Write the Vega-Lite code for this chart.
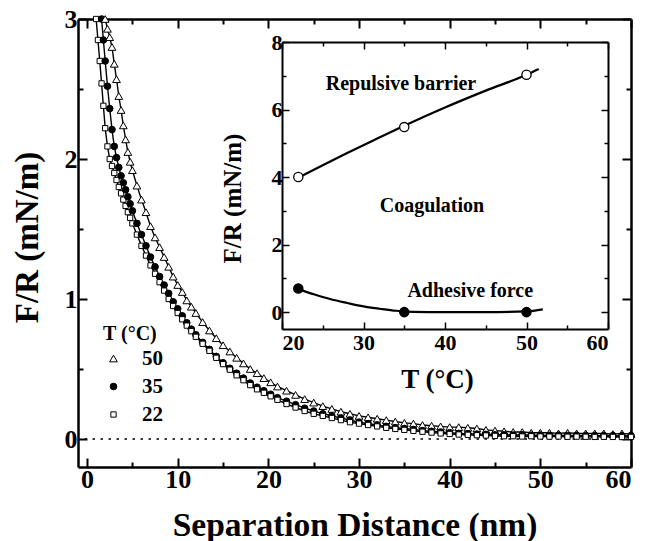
{
  "$schema": "https://vega.github.io/schema/vega-lite/v6.json",
  "width": 553,
  "height": 448,
  "autosize": {"type": "none"},
  "padding": {"left": 78, "top": 19, "right": 14, "bottom": 74},
  "background": "white",
  "config": {
    "font": "Liberation Serif, Times New Roman, serif",
    "view": {"stroke": null},
    "axis": {"grid": false, "domainColor": "black", "tickColor": "black", "labelColor": "black", "titleColor": "black", "labelFont": "Liberation Serif, Times New Roman, serif", "titleFont": "Liberation Serif, Times New Roman, serif", "labelFontWeight": "bold", "titleFontWeight": "bold"},
    "legend": {"titleFont": "Liberation Serif, Times New Roman, serif", "titleFontWeight": "bold", "titleFontSize": 20, "titleColor": "black", "labelFont": "Liberation Serif, Times New Roman, serif", "labelFontWeight": "bold", "labelFontSize": 21, "labelColor": "black", "padding": 0, "titlePadding": 4, "rowPadding": 6, "labelOffset": 18, "symbolStrokeWidth": 1},
    "text": {"font": "Liberation Serif, Times New Roman, serif"}
  },
  "datasets": {
    "force": [
      {"d": 1.0, "22": 3.00},
      {"d": 1.2, "22": 2.85},
      {"d": 1.4, "22": 2.70},
      {"d": 1.6, "35": 3.00, "22": 2.54},
      {"d": 1.8, "35": 2.85, "22": 2.38},
      {"d": 2.0, "50": 3.00, "35": 2.70, "22": 2.22},
      {"d": 2.25, "50": 2.93, "35": 2.52, "22": 2.09},
      {"d": 2.5, "50": 2.87, "35": 2.36, "22": 2.00},
      {"d": 2.75, "50": 2.80, "35": 2.21, "22": 1.95},
      {"d": 3.0, "50": 2.68, "35": 2.09, "22": 1.90},
      {"d": 3.25, "50": 2.57, "35": 2.01, "22": 1.85},
      {"d": 3.5, "50": 2.45, "35": 1.94, "22": 1.80},
      {"d": 3.75, "50": 2.35, "35": 1.88, "22": 1.755},
      {"d": 4.0, "50": 2.24, "35": 1.83, "22": 1.71},
      {"d": 4.25, "50": 2.14, "35": 1.78, "22": 1.665},
      {"d": 4.5, "50": 2.05, "35": 1.73, "22": 1.62},
      {"d": 4.75, "50": 1.98, "35": 1.68, "22": 1.58},
      {"d": 5.0, "50": 1.92, "35": 1.63, "22": 1.54},
      {"d": 5.5, "50": 1.81, "35": 1.54, "22": 1.46},
      {"d": 6.0, "50": 1.71, "35": 1.46, "22": 1.38},
      {"d": 6.5, "50": 1.62, "35": 1.38, "22": 1.31},
      {"d": 7.0, "50": 1.52, "35": 1.30, "22": 1.24},
      {"d": 7.5, "50": 1.44, "35": 1.23, "22": 1.18},
      {"d": 8.0, "50": 1.37, "35": 1.16, "22": 1.12},
      {"d": 8.5, "50": 1.30, "35": 1.10, "22": 1.06},
      {"d": 9.0, "50": 1.23, "35": 1.04, "22": 1.00},
      {"d": 9.5, "50": 1.16, "35": 0.98, "22": 0.95},
      {"d": 10.0, "50": 1.10, "35": 0.93, "22": 0.90},
      {"d": 10.5, "50": 1.05, "35": 0.88, "22": 0.855},
      {"d": 11.0, "50": 0.99, "35": 0.83, "22": 0.81},
      {"d": 11.5, "50": 0.945, "35": 0.785, "22": 0.77},
      {"d": 12.0, "50": 0.90, "35": 0.745, "22": 0.73},
      {"d": 12.75, "50": 0.835, "35": 0.69, "22": 0.68},
      {"d": 13.5, "50": 0.775, "35": 0.64, "22": 0.63},
      {"d": 14.25, "50": 0.72, "35": 0.59, "22": 0.58},
      {"d": 15.0, "50": 0.67, "35": 0.545, "22": 0.535},
      {"d": 15.75, "50": 0.625, "35": 0.505, "22": 0.495},
      {"d": 16.5, "50": 0.58, "35": 0.47, "22": 0.455},
      {"d": 17.25, "50": 0.54, "35": 0.435, "22": 0.42},
      {"d": 18.0, "50": 0.50, "35": 0.40, "22": 0.385},
      {"d": 18.75, "50": 0.47, "35": 0.37, "22": 0.355},
      {"d": 19.5, "50": 0.435, "35": 0.345, "22": 0.33},
      {"d": 20.25, "50": 0.405, "35": 0.32, "22": 0.305},
      {"d": 21, "50": 0.375, "35": 0.295, "22": 0.28},
      {"d": 22, "50": 0.345, "35": 0.27, "22": 0.25},
      {"d": 23, "50": 0.315, "35": 0.245, "22": 0.225},
      {"d": 24, "50": 0.285, "35": 0.22, "22": 0.20},
      {"d": 25, "50": 0.26, "35": 0.20, "22": 0.18},
      {"d": 26, "50": 0.235, "35": 0.18, "22": 0.165},
      {"d": 27, "50": 0.215, "35": 0.165, "22": 0.15},
      {"d": 28, "50": 0.195, "35": 0.15, "22": 0.135},
      {"d": 29, "50": 0.18, "35": 0.135, "22": 0.12},
      {"d": 30, "50": 0.165, "35": 0.12, "22": 0.11},
      {"d": 31, "50": 0.155, "35": 0.11, "22": 0.10},
      {"d": 32, "50": 0.145, "35": 0.10, "22": 0.09},
      {"d": 33, "50": 0.135, "35": 0.09, "22": 0.08},
      {"d": 34, "50": 0.125, "35": 0.08, "22": 0.072},
      {"d": 35, "50": 0.115, "35": 0.075, "22": 0.065},
      {"d": 36, "50": 0.11, "35": 0.068, "22": 0.058},
      {"d": 37, "50": 0.10, "35": 0.06, "22": 0.052},
      {"d": 38, "50": 0.095, "35": 0.055, "22": 0.046},
      {"d": 39, "50": 0.09, "35": 0.05, "22": 0.04},
      {"d": 40, "50": 0.085, "35": 0.045, "22": 0.036},
      {"d": 41, "50": 0.085, "35": 0.04, "22": 0.032},
      {"d": 42, "50": 0.08, "35": 0.038, "22": 0.03},
      {"d": 43, "50": 0.075, "35": 0.035, "22": 0.027},
      {"d": 44, "50": 0.065, "35": 0.033, "22": 0.025},
      {"d": 45, "50": 0.06, "35": 0.03, "22": 0.022},
      {"d": 46, "50": 0.055, "35": 0.03, "22": 0.02},
      {"d": 47, "50": 0.05, "35": 0.028, "22": 0.02},
      {"d": 48, "50": 0.05, "35": 0.03, "22": 0.018},
      {"d": 49, "50": 0.045, "35": 0.027, "22": 0.02},
      {"d": 50, "50": 0.045, "35": 0.028, "22": 0.018},
      {"d": 51, "50": 0.045, "35": 0.026, "22": 0.017},
      {"d": 52, "50": 0.04, "35": 0.027, "22": 0.018},
      {"d": 53, "50": 0.045, "35": 0.025, "22": 0.016},
      {"d": 54, "50": 0.04, "35": 0.026, "22": 0.017},
      {"d": 55, "50": 0.04, "35": 0.025, "22": 0.016},
      {"d": 56, "50": 0.04, "35": 0.024, "22": 0.015},
      {"d": 57, "50": 0.04, "35": 0.025, "22": 0.016},
      {"d": 58, "50": 0.035, "35": 0.024, "22": 0.015},
      {"d": 59, "50": 0.04, "35": 0.023, "22": 0.014},
      {"d": 60, "50": 0.035, "35": 0.024, "22": 0.015}
    ],
    "insetLines": [
      {"T": 22, "F": 3.98, "s": "rep"},
      {"T": 25, "F": 4.35, "s": "rep"},
      {"T": 28, "F": 4.71, "s": "rep"},
      {"T": 31, "F": 5.06, "s": "rep"},
      {"T": 35, "F": 5.52, "s": "rep"},
      {"T": 40, "F": 6.06, "s": "rep"},
      {"T": 45, "F": 6.56, "s": "rep"},
      {"T": 50, "F": 7.03, "s": "rep"},
      {"T": 51.5, "F": 7.2, "s": "rep"},
      {"T": 22, "F": 0.68, "s": "adh"},
      {"T": 24, "F": 0.52, "s": "adh"},
      {"T": 26, "F": 0.38, "s": "adh"},
      {"T": 28, "F": 0.27, "s": "adh"},
      {"T": 30, "F": 0.17, "s": "adh"},
      {"T": 32, "F": 0.10, "s": "adh"},
      {"T": 34, "F": 0.04, "s": "adh"},
      {"T": 36, "F": 0.01, "s": "adh"},
      {"T": 40, "F": 0.0, "s": "adh"},
      {"T": 45, "F": 0.0, "s": "adh"},
      {"T": 50, "F": 0.02, "s": "adh"},
      {"T": 52, "F": 0.08, "s": "adh"}
    ],
    "insetPts": [
      {"T": 22, "F": 4.0, "s": "rep"},
      {"T": 35, "F": 5.48, "s": "rep"},
      {"T": 50, "F": 7.03, "s": "rep"},
      {"T": 22, "F": 0.7, "s": "adh"},
      {"T": 35, "F": 0.0, "s": "adh"},
      {"T": 50, "F": 0.0, "s": "adh"}
    ],
    "notes": [
      {"T": 34.6, "F": 6.75, "label": "Repulsive barrier"},
      {"T": 38.4, "F": 3.14, "label": "Coagulation"},
      {"T": 43.1, "F": 0.62, "label": "Adhesive force"}
    ]
  },
  "layer": [
    {
      "layer": [
        {
          "data": {"values": [{}]},
          "mark": {"type": "rule", "strokeDash": [2.5, 5.5], "strokeWidth": 1.4, "color": "black"},
          "encoding": {
            "y": {"datum": 0, "type": "quantitative", "scale": {"domain": [-0.2, 3], "nice": false, "zero": false}, "axis": null}
          }
        },
        {
          "data": {"name": "force"},
          "transform": [{"fold": ["50", "35", "22"], "as": ["T", "f"]}, {"filter": "isValid(datum.f)"}],
          "mark": {"type": "line", "color": "black", "strokeWidth": 1.4},
          "encoding": {
            "x": {"field": "d", "type": "quantitative", "scale": {"domain": [-1, 60], "nice": false, "zero": false},
              "axis": {"orient": "top", "values": [0, 5, 10, 15, 20, 25, 30, 35, 40, 45, 50, 55, 60], "labels": false, "title": null, "domainWidth": 2.5, "tickWidth": 2,
                "tickSize": {"condition": {"test": "datum.value % 10 === 0", "value": -9}, "value": -5}}},
            "y": {"field": "f", "type": "quantitative", "scale": {"domain": [-0.2, 3], "nice": false, "zero": false},
              "axis": {"orient": "right", "values": [0, 0.5, 1, 1.5, 2, 2.5, 3], "labels": false, "title": null, "domainWidth": 2.5, "tickWidth": 2,
                "tickSize": {"condition": {"test": "datum.value % 1 === 0", "value": -9}, "value": -5}}},
            "detail": {"field": "T", "type": "nominal"}
          }
        },
        {
          "data": {"name": "force"},
          "transform": [{"fold": ["50", "35", "22"], "as": ["T", "f"]}, {"filter": "isValid(datum.f)"}],
          "mark": {"type": "point", "filled": true, "strokeWidth": 1, "opacity": 1},
          "encoding": {
            "x": {"field": "d", "type": "quantitative", "scale": {"domain": [-1, 60], "nice": false, "zero": false},
              "axis": {"orient": "bottom", "values": [0, 5, 10, 15, 20, 25, 30, 35, 40, 45, 50, 55, 60], "labelExpr": "datum.value % 10 === 0 ? format(datum.value, 'd') : ''",
                "domainWidth": 2.5, "tickWidth": 2, "tickSize": {"condition": {"test": "datum.value % 10 === 0", "value": -9}, "value": -5},
                "labelFontSize": 26, "labelPadding": 8, "title": "Separation Distance (nm)", "titleFontSize": 33.5, "titleBaseline": "alphabetic", "titleY": 68}},
            "y": {"field": "f", "type": "quantitative", "scale": {"domain": [-0.2, 3], "nice": false, "zero": false},
              "axis": {"orient": "left", "values": [0, 0.5, 1, 1.5, 2, 2.5, 3], "labelExpr": "datum.value % 1 === 0 ? format(datum.value, 'd') : ''",
                "domainWidth": 2.5, "tickWidth": 2, "tickSize": {"condition": {"test": "datum.value % 1 === 0", "value": -9}, "value": -5},
                "labelFontSize": 26, "labelPadding": 10, "title": "F/R (mN/m)", "titleFontSize": 33, "titleAngle": 270, "titleBaseline": "middle", "titleX": -51, "titleY": 218}},
            "shape": {"field": "T", "type": "nominal", "scale": {"domain": ["50", "35", "22"], "range": ["triangle-up", "circle", "square"]},
              "legend": {"orient": "none", "legendX": 25, "legendY": 305, "title": "T (°C)"}},
            "fill": {"field": "T", "type": "nominal", "scale": {"domain": ["50", "35", "22"], "range": ["white", "black", "white"]},
              "legend": {"orient": "none", "legendX": 25, "legendY": 305, "title": "T (°C)"}},
            "stroke": {"field": "T", "type": "nominal", "scale": {"domain": ["50", "35", "22"], "range": ["black", "black", "black"]},
              "legend": {"orient": "none", "legendX": 25, "legendY": 305, "title": "T (°C)"}},
            "size": {"field": "T", "type": "nominal", "scale": {"domain": ["50", "35", "22"], "range": [60, 28, 45]},
              "legend": {"orient": "none", "legendX": 25, "legendY": 305, "title": "T (°C)"}}
          }
        }
      ],
      "resolve": {"axis": {"x": "independent", "y": "independent"}}
    },
    {
      "layer": [
        {
          "data": {"name": "insetLines"},
          "mark": {"type": "line", "color": "black", "strokeWidth": 2.2, "interpolate": "monotone"},
          "encoding": {
            "x": {"field": "T", "type": "quantitative", "scale": {"domain": [20, 60], "range": [204, 530], "nice": false, "zero": false},
              "axis": {"orient": "bottom", "offset": -138, "values": [20, 25, 30, 35, 40, 45, 50, 55, 60], "labelExpr": "datum.value % 10 === 0 ? format(datum.value, 'd') : ''",
                "domainWidth": 2, "tickWidth": 1.5, "tickSize": {"condition": {"test": "datum.value % 10 === 0", "value": -7}, "value": -4},
                "labelFontSize": 22, "labelPadding": 10, "title": "T (°C)", "titleFontSize": 27, "titleBaseline": "middle", "titleX": 359, "titleY": 50}},
            "y": {"field": "F", "type": "quantitative", "scale": {"domain": [-0.5, 8], "range": [310, 23], "nice": false, "zero": false},
              "axis": {"orient": "left", "offset": -204, "values": [0, 1, 2, 3, 4, 5, 6, 7, 8], "labelExpr": "datum.value % 2 === 0 ? format(datum.value, 'd') : ''",
                "domainWidth": 2, "tickWidth": 1.5, "tickSize": {"condition": {"test": "datum.value % 2 === 0", "value": -7}, "value": -4},
                "labelFontSize": 22, "labelPadding": 7, "title": "F/R (mN/m)", "titleFontSize": 25, "titleAngle": 270, "titleBaseline": "middle", "titleX": -50, "titleY": 179}},
            "detail": {"field": "s", "type": "nominal"}
          }
        },
        {
          "data": {"name": "insetPts"},
          "mark": {"type": "point", "shape": "circle", "filled": true, "size": 85, "stroke": "black", "strokeWidth": 1.3, "opacity": 1},
          "encoding": {
            "x": {"field": "T", "type": "quantitative", "scale": {"domain": [20, 60], "range": [204, 530], "nice": false, "zero": false},
              "axis": {"orient": "top", "offset": -23, "values": [20, 25, 30, 35, 40, 45, 50, 55, 60], "labels": false, "title": null,
                "domainWidth": 2, "tickWidth": 1.5, "tickSize": {"condition": {"test": "datum.value % 10 === 0", "value": -7}, "value": -4}}},
            "y": {"field": "F", "type": "quantitative", "scale": {"domain": [-0.5, 8], "range": [310, 23], "nice": false, "zero": false},
              "axis": {"orient": "right", "offset": -23, "values": [0, 1, 2, 3, 4, 5, 6, 7, 8], "labels": false, "title": null,
                "domainWidth": 2, "tickWidth": 1.5, "tickSize": {"condition": {"test": "datum.value % 2 === 0", "value": -7}, "value": -4}}},
            "fill": {"condition": {"test": "datum.s === 'adh'", "value": "black"}, "value": "white"}
          }
        },
        {
          "data": {"name": "notes"},
          "mark": {"type": "text", "font": "Liberation Serif, Times New Roman, serif", "fontWeight": "bold", "fontSize": 20, "color": "black"},
          "encoding": {
            "x": {"field": "T", "type": "quantitative", "scale": {"domain": [20, 60], "range": [204, 530], "nice": false, "zero": false}, "axis": null},
            "y": {"field": "F", "type": "quantitative", "scale": {"domain": [-0.5, 8], "range": [310, 23], "nice": false, "zero": false}, "axis": null},
            "text": {"field": "label", "type": "nominal"}
          }
        }
      ],
      "resolve": {"axis": {"x": "independent", "y": "independent"}}
    }
  ],
  "resolve": {"scale": {"x": "independent", "y": "independent"}, "axis": {"x": "independent", "y": "independent"}}
}
